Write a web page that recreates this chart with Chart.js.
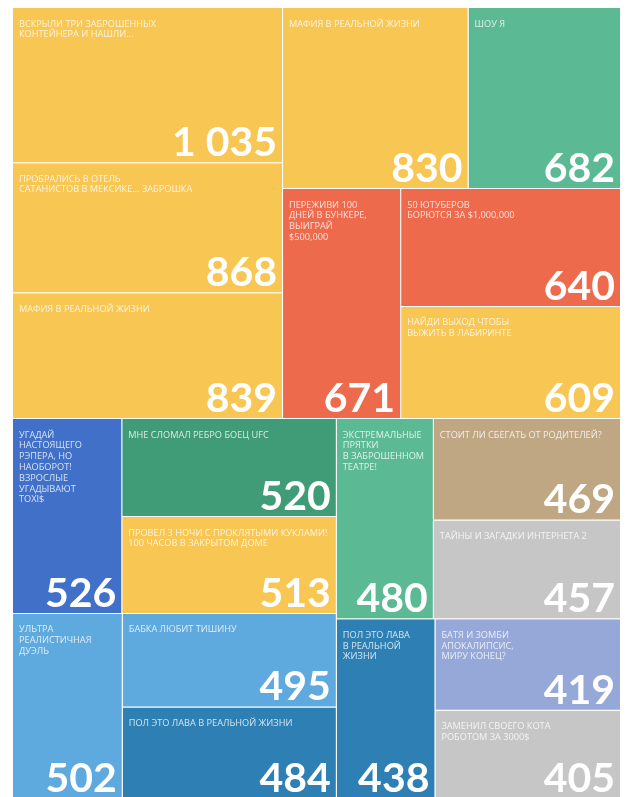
<!DOCTYPE html>
<html lang="ru">
<head>
<meta charset="utf-8">
<title>Просмотры</title>
<script src="https://cdn.jsdelivr.net/npm/chart.js@4.4.1/dist/chart.umd.min.js"></script>
<style>
  html, body { margin: 0; padding: 0; background: #fff; overflow: hidden; }
  #wrap { width: 628px; height: 799px; }
</style>
</head>
<body>
<div id="wrap"><canvas id="views"></canvas></div>
<script>
// video titles, biggest first
var titles = [
    "ВСКРЫЛИ ТРИ ЗАБРОШЕННЫХ\nКОНТЕЙНЕРА И НАШЛИ...",
    "ПРОБРАЛИСЬ В ОТЕЛЬ\nСАТАНИСТОВ В МЕКСИКЕ... ЗАБРОШКА",
    "МАФИЯ В РЕАЛЬНОЙ ЖИЗНИ",
    "МАФИЯ В РЕАЛЬНОЙ ЖИЗНИ",
    "ШОУ Я",
    "ПЕРЕЖИВИ 100\nДНЕЙ В БУНКЕРЕ,\nВЫИГРАЙ\n$500,000",
    "50 ЮТУБЕРОВ\nБОРЮТСЯ ЗА $1,000,000",
    "НАЙДИ ВЫХОД ЧТОБЫ\nВЫЖИТЬ В ЛАБИРИНТЕ",
    "УГАДАЙ\nНАСТОЯЩЕГО\nРЭПЕРА, НО\nНАОБОРОТ!\nВЗРОСЛЫЕ\nУГАДЫВАЮТ\nTOXI$",
    "МНЕ СЛОМАЛ РЕБРО БОЕЦ UFC",
    "ПРОВЕЛ 3 НОЧИ С ПРОКЛЯТЫМИ КУКЛАМИ!\n100 ЧАСОВ В ЗАКРЫТОМ ДОМЕ",
    "УЛЬТРА\nРЕАЛИСТИЧНАЯ\nДУЭЛЬ",
    "БАБКА ЛЮБИТ ТИШИНУ",
    "ПОЛ ЭТО ЛАВА В РЕАЛЬНОЙ ЖИЗНИ",
    "ЭКСТРЕМАЛЬНЫЕ\nПРЯТКИ\nВ ЗАБРОШЕННОМ\nТЕАТРЕ!",
    "СТОИТ ЛИ СБЕГАТЬ ОТ РОДИТЕЛЕЙ?",
    "ТАЙНЫ И ЗАГАДКИ ИНТЕРНЕТА 2",
    "ПОЛ ЭТО ЛАВА\nВ РЕАЛЬНОЙ\nЖИЗНИ",
    "БАТЯ И ЗОМБИ\nАПОКАЛИПСИС,\nМИРУ КОНЕЦ?",
    "ЗАМЕНИЛ СВОЕГО КОТА\nРОБОТОМ ЗА 3000$"
];

var views = [1035, 868, 839, 830, 682, 671, 640, 609, 526, 520, 513, 502, 495, 484, 480, 469, 457, 438, 419, 405];

var cellColors = [
    "#f8c653", "#f8c653", "#f8c653", "#f8c653", "#5bba94",
    "#ee6a4d", "#ee6a4d", "#f8c653", "#4070c8", "#3f9c76",
    "#f8c653", "#5ea9de", "#5ea9de", "#2d7fb4", "#5bba94",
    "#bfa784", "#c6c6c6", "#2d7fb4", "#96a8d8", "#c6c6c6"
];

// split the list in two halves by value, cut across the longer side, recurse
function binaryLayout(values, x0, y0, x1, y1) {
    var out = new Array(values.length);
    var sums = [0];
    for (var i = 0; i < values.length; i++) sums.push(sums[i] + values[i]);

    function part(i, j, value, x0, y0, x1, y1) {
        if (i >= j - 1) {
            out[i] = {x0: x0, y0: y0, x1: x1, y1: y1};
            return;
        }
        var offset = sums[i], target = value / 2 + offset, k = i + 1, hi = j - 1;
        while (k < hi) {
            var mid = (k + hi) >>> 1;
            if (sums[mid] < target) k = mid + 1; else hi = mid;
        }
        if (target - sums[k - 1] < sums[k] - target && i + 1 < k) --k;
        var left = sums[k] - offset, right = value - left;
        if (x1 - x0 > y1 - y0) {
            var xk = (x0 * right + x1 * left) / value;
            part(i, k, left, x0, y0, xk, y1);
            part(k, j, right, xk, y0, x1, y1);
        } else {
            var yk = (y0 * right + y1 * left) / value;
            part(i, k, left, x0, y0, x1, yk);
            part(k, j, right, x0, yk, x1, y1);
        }
    }
    part(0, values.length, sums[values.length], x0, y0, x1, y1);
    return out;
}

function formatViews(v) {
    return String(v).replace(/\B(?=(\d{3})+(?!\d))/g, "\u00a0");
}

class TreemapController extends Chart.DatasetController {
    static id = "treemap";
    static defaults = {
        datasetElementType: false,
        dataElementType: "bar"
    };

    update(mode) {
        var meta = this._cachedMeta;
        this.updateElements(meta.data, 0, meta.data.length, mode);
    }

    updateElements(rects, start, count, mode) {
        var meta = this._cachedMeta;
        var xs = meta.xScale, ys = meta.yScale;
        if (xs.min === undefined || ys.min === undefined) return;
        var cells = binaryLayout(this.getDataset().data, xs.min, ys.min, xs.max, ys.max);
        for (var i = start; i < start + count; i++) {
            var c = cells[i];
            var left = xs.getPixelForValue(c.x0), right = xs.getPixelForValue(c.x1);
            var top = ys.getPixelForValue(c.y0), bottom = ys.getPixelForValue(c.y1);
            this.updateElement(rects[i], i, {
                x: (left + right) / 2,
                y: top,
                base: bottom,
                width: right - left,
                height: bottom - top,
                horizontal: false,
                inflateAmount: 0,
                borderSkipped: {top: false, left: false, bottom: false, right: false},
                options: this.resolveDataElementOptions(i, mode)
            }, mode);
        }
    }

    draw() {
        super.draw();
        var ctx = this.chart.ctx;
        var data = this.getDataset().data;
        var labels = this.chart.data.labels;
        this._cachedMeta.data.forEach(function (el, i) {
            var p = el.getProps(["x", "y", "base", "width"], true);
            var left = p.x - p.width / 2, right = p.x + p.width / 2;
            ctx.save();
            ctx.fillStyle = "rgba(255,255,255,0.8)";
            ctx.font = '9.2px "Open Sans"';
            ctx.textAlign = "left";
            ctx.textBaseline = "alphabetic";
            String(labels[i]).split("\n").forEach(function (line, k) {
                ctx.fillText(line, left + 6, p.y + 18.5 + k * 10.8);
            });
            ctx.fillStyle = "#fff";
            ctx.font = 'bold 41px Lato';
            ctx.textAlign = "right";
            ctx.fillText(formatViews(data[i]), right - 6, p.base - 7);
            ctx.restore();
        });
    }
}
Chart.register(TreemapController);

var ctx = document.getElementById("views");
var viewsChart = new Chart(ctx, {
    type: "treemap",
    data: {
        labels: titles,
        datasets: [
            {
                label: "Просмотры",
                data: views,
                backgroundColor: cellColors,
                borderColor: "rgba(255,255,255,0.55)",
                borderWidth: {top: 0, left: 0, right: 1, bottom: 1}
            }
        ]
    },
    options: {
        responsive: true,
        maintainAspectRatio: false,
        animation: false,
        events: [],
        layout: {
            padding: {left: 13, right: 7, top: 8, bottom: 0}
        },
        scales: {
            // layout space is taller than the canvas, so cuts lean horizontal
            x: {type: "linear", min: 0, max: 100, display: false},
            y: {type: "linear", min: 0, max: 160, reverse: true, display: false}
        },
        plugins: {
            legend: {display: false},
            tooltip: {enabled: false}
        }
    }
});
</script>
</body>
</html>
